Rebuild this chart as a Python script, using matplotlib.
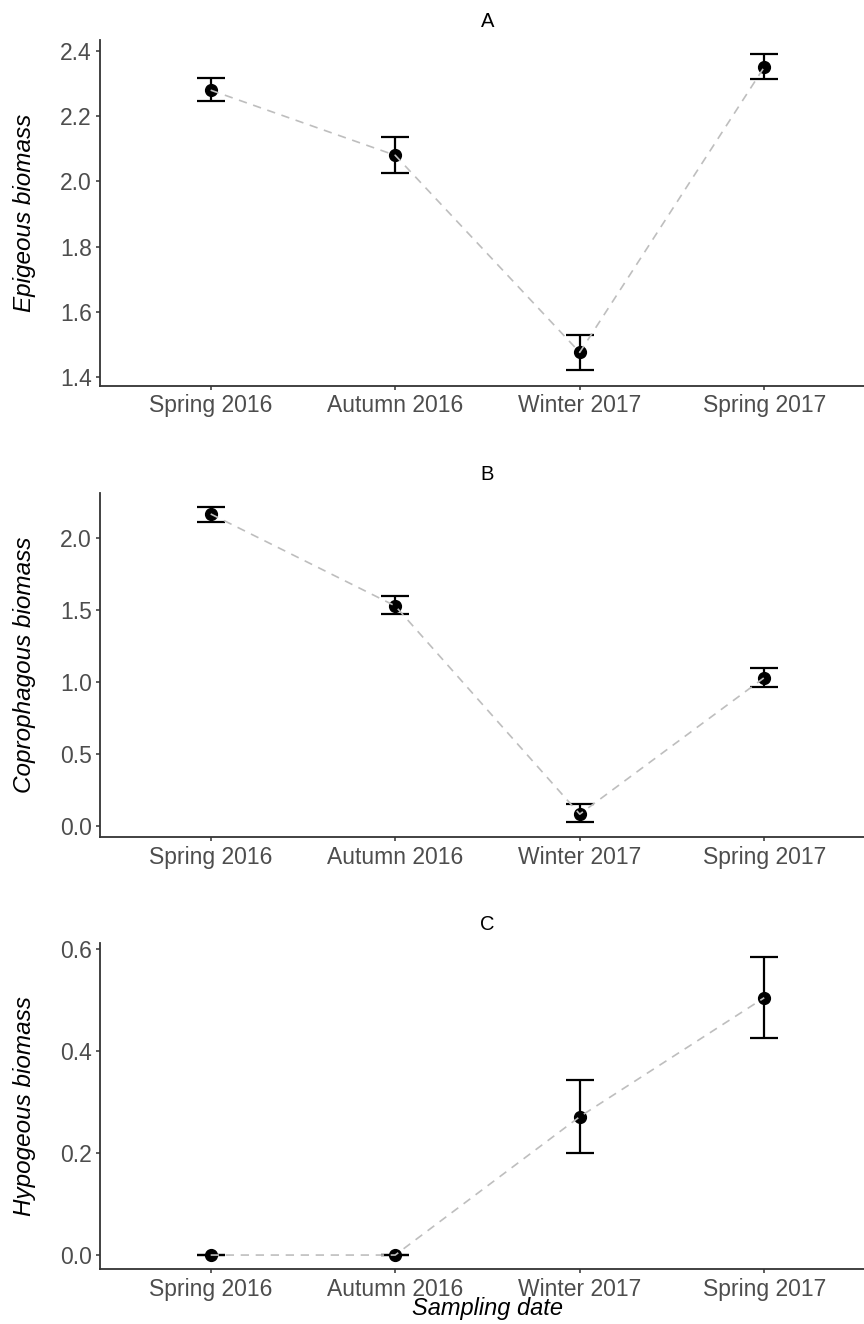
import numpy as np
import matplotlib
matplotlib.use("Agg")
import matplotlib.pyplot as plt

plt.rcParams['font.family'] = ['Liberation Sans', 'DejaVu Sans']

dates = ['Spring 2016', 'Autumn 2016', 'Winter 2017', 'Spring 2017']

epi_mean = [2.28, 2.08, 1.475, 2.351]
epi_low = [2.247, 2.026, 1.421, 2.314]
epi_high = [2.316, 2.136, 1.527, 2.390]

cop_mean = [2.169, 1.529, 0.08, 1.03]
cop_low = [2.111, 1.473, 0.026, 0.967]
cop_high = [2.216, 1.600, 0.150, 1.100]

hyp_mean = [0.0, 0.0, 0.2715, 0.505]
hyp_low = [0.0, 0.0, 0.1996, 0.425]
hyp_high = [0.0, 0.0, 0.343, 0.585]

panels = ['A', 'B', 'C']
ylabels = ['Epigeous biomass', 'Coprophagous biomass', 'Hypogeous biomass']
yticks = [[1.4, 1.6, 1.8, 2.0, 2.2, 2.4],
          [0.0, 0.5, 1.0, 1.5, 2.0],
          [0.0, 0.2, 0.4, 0.6]]
ylims = [(1.372, 2.434), (-0.081, 2.317), (-0.028, 0.613)]
means = [epi_mean, cop_mean, hyp_mean]
lows = [epi_low, cop_low, hyp_low]
highs = [epi_high, cop_high, hyp_high]

fig = plt.figure(figsize=(8.64, 13.24), dpi=100)
# axes boxes in figure fractions (left, bottom, width, height)
boxes = [(0.1157, 0.7085, 0.897, 0.2613),
         (0.1157, 0.3676, 0.897, 0.2603),
         (0.1157, 0.0413, 0.897, 0.2467)]

x = np.arange(1, len(dates) + 1)
for i in range(3):
    ax = fig.add_axes(boxes[i])
    m = np.array(means[i])
    lo = m - np.array(lows[i])
    hi = np.array(highs[i]) - m
    ax.errorbar(x, m, yerr=[lo, hi], fmt='none', ecolor='black',
                elinewidth=1.6, capsize=10, capthick=1.6, zorder=2)
    ax.plot(x, m, 'o', color='black', markersize=8.5, zorder=3)
    ax.plot(x, m, '--', color='#BEBEBE', linewidth=1.2, dashes=(5, 4), zorder=4)
    ax.set_xlim(0.4, 4.6)
    ax.set_ylim(*ylims[i])
    ax.set_xticks(x)
    ax.set_xticklabels(dates)
    ax.set_yticks(yticks[i])
    ax.set_yticklabels(['%.1f' % t for t in yticks[i]])
    ax.tick_params(labelsize=16.5, labelcolor='#4D4D4D', color='#333333',
                   length=3, width=1.1, pad=3)
    for s in ['top', 'right']:
        ax.spines[s].set_visible(False)
    for s in ['left', 'bottom']:
        ax.spines[s].set_color('#333333')
        ax.spines[s].set_linewidth(1.3)
    ax.set_ylabel(ylabels[i], fontsize=17.5, fontstyle='italic', color='black')
    ax.yaxis.set_label_coords(-0.083, 0.5)
    ax.set_title(panels[i], fontsize=14.5, pad=9)
    if i == 2:
        ax.set_xlabel('Sampling date', fontsize=17, fontstyle='italic')
        ax.xaxis.set_label_coords(0.5, -0.085)

fig.savefig('out.png', dpi=100)
